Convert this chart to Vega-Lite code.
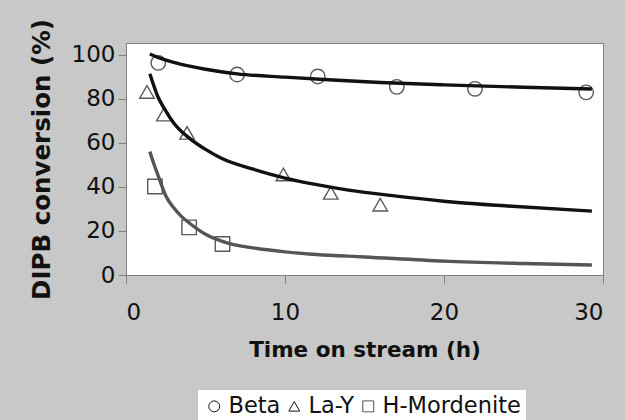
{
  "$schema": "https://vega.github.io/schema/vega-lite/v6.json",
  "width": 477,
  "height": 232,
  "autosize": {"type": "none"},
  "padding": {"left": 126, "top": 43, "right": 22, "bottom": 145},
  "background": "#c8c8c8",
  "config": {
    "font": "DejaVu Sans",
    "view": {"fill": "white", "stroke": "#808080", "strokeWidth": 1},
    "axis": {
      "grid": false,
      "domainColor": "#808080",
      "tickColor": "#808080",
      "tickSize": 8,
      "labelFont": "DejaVu Sans",
      "labelFontSize": 23,
      "labelColor": "#111111",
      "titleFont": "DejaVu Sans",
      "titleFontWeight": "bold",
      "titleColor": "#111111"
    },
    "legend": {
      "labelFont": "DejaVu Sans",
      "labelFontSize": 22.5,
      "labelColor": "#111111"
    }
  },
  "datasets": {
    "measured": [
      {"catalyst": "Beta", "time": 2.03, "conversion": 96.3},
      {"catalyst": "Beta", "time": 6.99, "conversion": 91.0},
      {"catalyst": "Beta", "time": 12.06, "conversion": 90.1},
      {"catalyst": "Beta", "time": 17.03, "conversion": 85.4},
      {"catalyst": "Beta", "time": 21.95, "conversion": 84.5},
      {"catalyst": "Beta", "time": 28.94, "conversion": 82.9},
      {"catalyst": "La-Y", "time": 1.32, "conversion": 83.1},
      {"catalyst": "La-Y", "time": 2.38, "conversion": 72.8},
      {"catalyst": "La-Y", "time": 3.84, "conversion": 64.5},
      {"catalyst": "La-Y", "time": 9.9, "conversion": 45.6},
      {"catalyst": "La-Y", "time": 12.88, "conversion": 37.3},
      {"catalyst": "La-Y", "time": 15.99, "conversion": 31.9},
      {"catalyst": "H-Mordenite", "time": 1.82, "conversion": 40.2},
      {"catalyst": "H-Mordenite", "time": 3.97, "conversion": 21.6},
      {"catalyst": "H-Mordenite", "time": 6.07, "conversion": 14.1}
    ],
    "fitted": [
      {"catalyst": "Beta", "time": 1.5, "conversion": 100.3},
      {"catalyst": "Beta", "time": 2, "conversion": 98.8},
      {"catalyst": "Beta", "time": 3, "conversion": 96.5},
      {"catalyst": "Beta", "time": 4, "conversion": 94.8},
      {"catalyst": "Beta", "time": 5, "conversion": 93.4},
      {"catalyst": "Beta", "time": 7, "conversion": 91.3},
      {"catalyst": "Beta", "time": 10, "conversion": 89.8},
      {"catalyst": "Beta", "time": 13, "conversion": 88.5},
      {"catalyst": "Beta", "time": 16, "conversion": 87.4},
      {"catalyst": "Beta", "time": 20, "conversion": 86.3},
      {"catalyst": "Beta", "time": 25, "conversion": 85.2},
      {"catalyst": "Beta", "time": 29.3, "conversion": 84.4},
      {"catalyst": "La-Y", "time": 1.5, "conversion": 91.3},
      {"catalyst": "La-Y", "time": 2, "conversion": 81.0},
      {"catalyst": "La-Y", "time": 2.5, "conversion": 74.5},
      {"catalyst": "La-Y", "time": 3, "conversion": 69.0},
      {"catalyst": "La-Y", "time": 4, "conversion": 62.0},
      {"catalyst": "La-Y", "time": 5, "conversion": 57.0},
      {"catalyst": "La-Y", "time": 6, "conversion": 53.0},
      {"catalyst": "La-Y", "time": 8, "conversion": 48.0},
      {"catalyst": "La-Y", "time": 10, "conversion": 44.0},
      {"catalyst": "La-Y", "time": 12, "conversion": 41.0},
      {"catalyst": "La-Y", "time": 14, "conversion": 38.5},
      {"catalyst": "La-Y", "time": 17, "conversion": 35.8},
      {"catalyst": "La-Y", "time": 20, "conversion": 33.5},
      {"catalyst": "La-Y", "time": 24, "conversion": 31.3},
      {"catalyst": "La-Y", "time": 29.3, "conversion": 29.0},
      {"catalyst": "H-Mordenite", "time": 1.5, "conversion": 56.0},
      {"catalyst": "H-Mordenite", "time": 1.75, "conversion": 50.5},
      {"catalyst": "H-Mordenite", "time": 2, "conversion": 45.5},
      {"catalyst": "H-Mordenite", "time": 2.5, "conversion": 36.0},
      {"catalyst": "H-Mordenite", "time": 3, "conversion": 30.5},
      {"catalyst": "H-Mordenite", "time": 3.5, "conversion": 26.5},
      {"catalyst": "H-Mordenite", "time": 4, "conversion": 23.5},
      {"catalyst": "H-Mordenite", "time": 5, "conversion": 18.5},
      {"catalyst": "H-Mordenite", "time": 6.4, "conversion": 14.5},
      {"catalyst": "H-Mordenite", "time": 8, "conversion": 12.3},
      {"catalyst": "H-Mordenite", "time": 10, "conversion": 10.5},
      {"catalyst": "H-Mordenite", "time": 12, "conversion": 9.3},
      {"catalyst": "H-Mordenite", "time": 15, "conversion": 8.2},
      {"catalyst": "H-Mordenite", "time": 20, "conversion": 6.3},
      {"catalyst": "H-Mordenite", "time": 25, "conversion": 5.2},
      {"catalyst": "H-Mordenite", "time": 29.3, "conversion": 4.5}
    ]
  },
  "encoding": {
    "x": {
      "field": "time",
      "type": "quantitative",
      "scale": {"domain": [0, 30], "nice": false},
      "axis": {
        "values": [0, 10, 20, 30],
        "labelPadding": 18,
        "title": "Time on stream (h)",
        "titleFontSize": 21.5,
        "titlePadding": 15
      }
    },
    "y": {
      "field": "conversion",
      "type": "quantitative",
      "scale": {"domain": [0, 105.3], "nice": false},
      "axis": {
        "values": [0, 20, 40, 60, 80, 100],
        "labelPadding": 3,
        "title": "DIPB conversion (%)",
        "titleFontSize": 24.5,
        "titlePadding": 17
      }
    }
  },
  "layer": [
    {
      "data": {"name": "measured"},
      "mark": {"type": "point", "filled": false, "stroke": "#5a5a5a", "strokeWidth": 1.4, "size": 210, "opacity": 1},
      "encoding": {
        "shape": {
          "field": "catalyst",
          "type": "nominal",
          "scale": {"domain": ["Beta", "La-Y", "H-Mordenite"], "range": ["circle", "triangle-up", "square"]},
          "legend": {
            "title": null,
            "orient": "none",
            "direction": "horizontal",
            "legendX": 72,
            "legendY": 347,
            "padding": 5,
            "fillColor": "white",
            "symbolSize": 120,
            "symbolStrokeColor": "#444444",
            "symbolStrokeWidth": 1,
            "symbolFillColor": "transparent",
            "labelOffset": 3,
            "columnPadding": 2
          }
        }
      }
    },
    {
      "data": {"name": "fitted"},
      "mark": {"type": "line", "strokeWidth": 3.4, "interpolate": "monotone"},
      "encoding": {
        "detail": {"field": "catalyst", "type": "nominal"},
        "color": {
          "field": "catalyst",
          "type": "nominal",
          "scale": {"domain": ["Beta", "La-Y", "H-Mordenite"], "range": ["#111111", "#111111", "#555555"]},
          "legend": null
        }
      }
    }
  ]
}
